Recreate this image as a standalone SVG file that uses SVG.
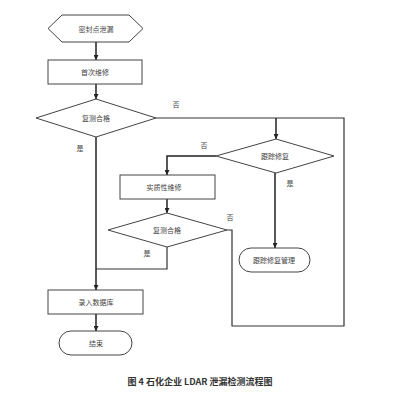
<svg xmlns="http://www.w3.org/2000/svg" width="400" height="400" viewBox="0 0 400 400">
<defs>
<marker id="arr" viewBox="0 0 10 10" refX="10" refY="5" markerWidth="5" markerHeight="5" orient="auto" markerUnits="userSpaceOnUse">
<path d="M0,0 L10,5 L0,10 z" fill="#222"/>
</marker>
<style>
.s{fill:#fff;stroke:#444;stroke-width:1}
.t{font-family:"Noto Sans CJK SC","Liberation Sans",sans-serif;font-size:7px;fill:#444;text-anchor:middle;dominant-baseline:central}
.c{fill:none;stroke:#333;stroke-width:1.2}
.a{fill:none;stroke:#222;stroke-width:1.5;marker-end:url(#arr)}
.l{font-family:"Noto Sans CJK SC","Liberation Sans",sans-serif;font-size:7px;fill:#444;text-anchor:middle;dominant-baseline:central}
</style>
</defs>
<rect width="400" height="400" fill="#fff"/>
<g id="connectors">
<line class="a" x1="96" y1="42" x2="96" y2="60"/>
<line class="a" x1="96" y1="84" x2="96" y2="99"/>
<polyline class="c" points="156,118 344,118 344,326 232,326 232,230 227,230"/>
<line class="a" x1="276" y1="118" x2="276" y2="139"/>
<polyline class="a" points="216,156 167,156 167,175"/>
<line class="a" x1="275" y1="173" x2="275" y2="248"/>
<line class="a" x1="167" y1="199" x2="167" y2="213"/>
<polyline class="c" points="167,247 167,269 96,269"/>
<line class="a" x1="96" y1="137" x2="96" y2="290"/>
<line class="a" x1="96" y1="314" x2="96" y2="331"/>
<text class="l" x="176" y="104">否</text>
<text class="l" x="80" y="148">是</text>
<text class="l" x="204" y="145">否</text>
<text class="l" x="290" y="183">是</text>
<text class="l" x="230" y="217">否</text>
<text class="l" x="147" y="253">是</text>
</g>
<g id="start">
<polygon class="s" points="48,28.5 62,15 129,15 143,28.5 129,42 62,42"/>
<text class="t" x="96" y="29">密封点泄漏</text>
</g>
<g id="first-repair">
<rect class="s" x="48" y="60" width="94" height="24"/>
<text class="t" x="95" y="72">首次维修</text>
</g>
<g id="check1">
<polygon class="s" points="36,118 96,99 156,118 96,137"/>
<text class="t" x="96" y="118">复测合格</text>
</g>
<g id="track">
<polygon class="s" points="216,156 276,139 334,156 276,173"/>
<text class="t" x="275" y="156">跟踪修复</text>
</g>
<g id="substantive-repair">
<rect class="s" x="120" y="175" width="95" height="24"/>
<text class="t" x="164" y="187">实质性维修</text>
</g>
<g id="check2">
<polygon class="s" points="108,230 167,213 227,230 167,247"/>
<text class="t" x="167" y="230">复测合格</text>
</g>
<g id="track-manage">
<rect class="s" x="239" y="248" width="71" height="24" rx="12" ry="12"/>
<text class="t" x="274" y="260">跟踪修复管理</text>
</g>
<g id="database">
<rect class="s" x="48" y="290" width="95" height="24"/>
<text class="t" x="96" y="302">录入数据库</text>
</g>
<g id="end">
<rect class="s" x="59" y="331" width="73" height="24" rx="12" ry="12"/>
<text class="t" x="96" y="343">结束</text>
</g>
<text x="200" y="381" style="font-family:'Noto Sans CJK SC','Liberation Sans',sans-serif;font-size:9px;font-weight:bold;fill:#333;text-anchor:middle;dominant-baseline:central">图 4 石化企业 LDAR 泄漏检测流程图</text>
</svg>
